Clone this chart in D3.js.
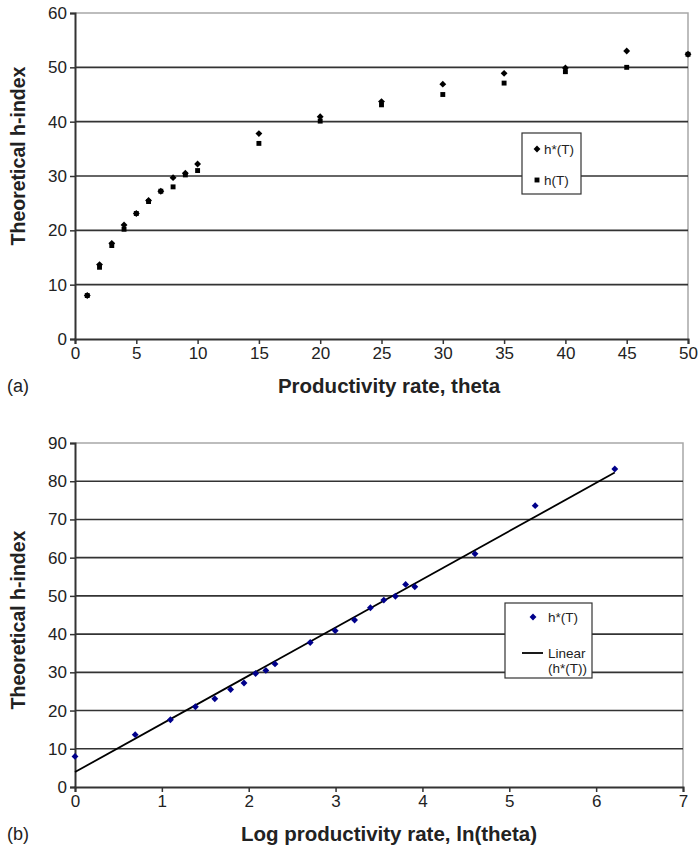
<!DOCTYPE html>
<html>
<head>
<meta charset="utf-8">
<script src="https://cdn.jsdelivr.net/npm/d3@7"></script>
<style>
  body { margin: 0; background: #fff; }
  svg { font-family: "Liberation Sans", Arial, sans-serif; }
</style>
</head>
<body>
<div id="chart"></div>
<script>
// productivity rate theta and the two theoretical h-indices
const theta = [1, 2, 3, 4, 5, 6, 7, 8, 9, 10, 15, 20, 25, 30, 35, 40, 45, 50];
const hStar = [8, 13.7, 17.6, 21, 23.1, 25.5, 27.2, 29.7, 30.5, 32.2, 37.8, 40.9, 43.7, 46.9, 48.9, 49.9, 53, 52.4];
const hPlain = [8, 13.2, 17.2, 20.2, 23.1, 25.3, 27.2, 28, 30.2, 31, 36, 40.1, 43.1, 45, 47.1, 49.2, 50, 52.4];

// panel (b) adds three larger theta values
const thetaExtra = [100, 200, 500];
const hStarExtra = [61, 73.6, 83.2];

const ticksA_x = [0, 5, 10, 15, 20, 25, 30, 35, 40, 45, 50];
const ticksA_y = [0, 10, 20, 30, 40, 50, 60];
const ticksB_x = [0, 1, 2, 3, 4, 5, 6, 7];
const ticksB_y = [0, 10, 20, 30, 40, 50, 60, 70, 80, 90];

const width = 699;
const height = 849;

const svg = d3.select("#chart").append("svg")
  .attr("width", width)
  .attr("height", height);

const diamond = d3.symbol().type(d3.symbolDiamond2).size(30);
const square = d3.symbol().type(d3.symbolSquare).size(24);

function panel(opts) {
  const g = svg.append("g");
  const x = d3.scaleLinear().domain(opts.xDomain).range([opts.left, opts.right]);
  const y = d3.scaleLinear().domain(opts.yDomain).range([opts.bottom, opts.top]);

  // frame (grey top / right)
  g.append("path")
    .attr("d", `M${opts.left},${opts.top}H${opts.right}V${opts.bottom}`)
    .attr("fill", "none").attr("stroke", "#a8a8a8").attr("stroke-width", 1.5);

  // gridlines
  g.selectAll(".grid").data(opts.yTicks.filter((t) => t > opts.yDomain[0] && t < opts.yDomain[1]))
    .join("line")
    .attr("x1", opts.left).attr("x2", opts.right)
    .attr("y1", (d) => y(d)).attr("y2", (d) => y(d))
    .attr("stroke", "#333").attr("stroke-width", 1.6);

  const yAxis = g.append("g")
    .attr("transform", `translate(${opts.left},0)`)
    .call(d3.axisLeft(y).tickValues(opts.yTicks).tickFormat(d3.format("d")).tickSize(5).tickPadding(3));
  const xAxis = g.append("g")
    .attr("transform", `translate(0,${opts.bottom})`)
    .call(d3.axisBottom(x).tickValues(opts.xTicks).tickFormat(d3.format("d")).tickSize(5).tickPadding(3));

  [yAxis, xAxis].forEach((a) => {
    a.select(".domain").attr("stroke", "#333").attr("stroke-width", 2);
    a.selectAll(".tick line").attr("stroke", "#333").attr("stroke-width", 1.5);
    a.selectAll(".tick text")
      .attr("font-size", 17).attr("fill", "#222")
      .attr("font-family", "Liberation Sans, Arial, sans-serif");
  });

  // axis titles
  g.append("text")
    .attr("transform", `translate(25,${opts.yTitleMid}) rotate(-90)`)
    .attr("text-anchor", "middle")
    .attr("font-size", 19.5).attr("font-weight", "bold").attr("fill", "#222")
    .text("Theoretical h-index");

  g.append("text")
    .attr("x", 389).attr("y", opts.bottom + 54)
    .attr("text-anchor", "middle")
    .attr("font-size", 20.5).attr("font-weight", "bold").attr("fill", "#222")
    .text(opts.xTitle);

  g.append("text")
    .attr("x", 7).attr("y", opts.bottom + 53)
    .attr("font-size", 18).attr("fill", "#222")
    .text(opts.tag);

  return { g, x, y };
}

// ---- panel (a)
const a = panel({
  xDomain: [0, 50], yDomain: [0, 60],
  left: 75, right: 688, top: 13, bottom: 339,
  xTicks: ticksA_x, yTicks: ticksA_y, yTitleMid: 156,
  xTitle: "Productivity rate, theta", tag: "(a)",
});

const dataA = theta.map((t, i) => ({ t, hs: hStar[i], h: hPlain[i] }));

a.g.selectAll(".hsq").data(dataA).join("path")
  .attr("d", square)
  .attr("transform", (d) => `translate(${a.x(d.t)},${a.y(d.h)})`)
  .attr("fill", "#000");

a.g.selectAll(".hdm").data(dataA).join("path")
  .attr("d", diamond)
  .attr("transform", (d) => `translate(${a.x(d.t)},${a.y(d.hs)})`)
  .attr("fill", "#000");

// legend (a)
const legA = a.g.append("g").attr("transform", "translate(522,133)");
legA.append("rect").attr("width", 59).attr("height", 61)
  .attr("fill", "#fff").attr("stroke", "#333").attr("stroke-width", 1.2);
legA.append("path").attr("d", diamond).attr("transform", "translate(15,16)").attr("fill", "#000");
legA.append("text").attr("x", 22).attr("y", 21).attr("font-size", 13.5).attr("fill", "#222").text("h*(T)");
legA.append("path").attr("d", square).attr("transform", "translate(15,47)").attr("fill", "#000");
legA.append("text").attr("x", 22).attr("y", 52).attr("font-size", 13.5).attr("fill", "#222").text("h(T)");

// ---- panel (b)
const b = panel({
  xDomain: [0, 7], yDomain: [0, 90],
  left: 75, right: 683, top: 443, bottom: 787,
  xTicks: ticksB_x, yTicks: ticksB_y, yTitleMid: 620,
  xTitle: "Log productivity rate, ln(theta)", tag: "(b)",
});

const dataB = theta.concat(thetaExtra).map((t, i) => ({
  lx: Math.log(t),
  hs: hStar.concat(hStarExtra)[i],
}));

// least squares trend line, as the spreadsheet did
const mx = d3.mean(dataB, (d) => d.lx);
const my = d3.mean(dataB, (d) => d.hs);
const slope = d3.sum(dataB, (d) => (d.lx - mx) * (d.hs - my)) / d3.sum(dataB, (d) => (d.lx - mx) ** 2);
const intercept = my - slope * mx;
const xEnds = d3.extent(dataB, (d) => d.lx);

b.g.append("line")
  .attr("x1", b.x(xEnds[0])).attr("y1", b.y(intercept + slope * xEnds[0]))
  .attr("x2", b.x(xEnds[1])).attr("y2", b.y(intercept + slope * xEnds[1]))
  .attr("stroke", "#000").attr("stroke-width", 1.8);

b.g.selectAll(".bdm").data(dataB).join("path")
  .attr("d", diamond)
  .attr("transform", (d) => `translate(${b.x(d.lx)},${b.y(d.hs)})`)
  .attr("fill", "#00008b");

// legend (b)
const legB = b.g.append("g").attr("transform", "translate(505,603)");
legB.append("rect").attr("width", 87).attr("height", 75)
  .attr("fill", "#fff").attr("stroke", "#333").attr("stroke-width", 1.2);
legB.append("path").attr("d", diamond).attr("transform", "translate(28,14)").attr("fill", "#00008b");
legB.append("text").attr("x", 43).attr("y", 19).attr("font-size", 13.5).attr("fill", "#222").text("h*(T)");
legB.append("line").attr("x1", 17).attr("x2", 38).attr("y1", 50).attr("y2", 50)
  .attr("stroke", "#000").attr("stroke-width", 1.8);
legB.append("text").attr("x", 43).attr("y", 55).attr("font-size", 13.5).attr("fill", "#222").text("Linear");
legB.append("text").attr("x", 43).attr("y", 70).attr("font-size", 13.5).attr("fill", "#222").text("(h*(T))");
</script>
</body>
</html>
